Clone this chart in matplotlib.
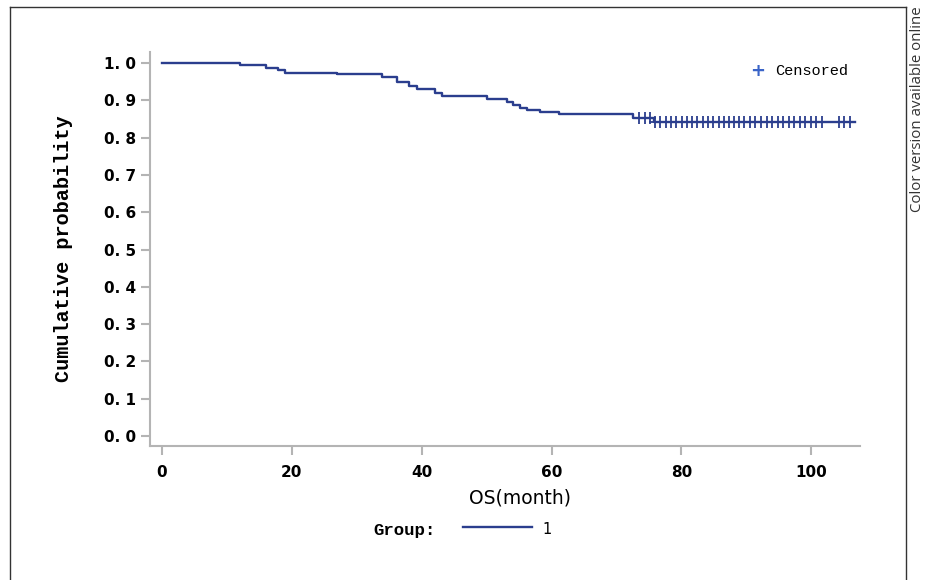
import matplotlib.pyplot as plt
from matplotlib.lines import Line2D
import numpy as np

# Kaplan-Meier estimate
event_months = [0, 12.0, 16.0, 17.9, 19.0, 27.0, 33.9, 36.2, 38.0, 39.3, 42.0, 43.1,
                50.0, 53.1, 54.1, 55.2, 56.2, 58.2, 61.2, 72.5, 75.7]
survival = [1.0, 0.995, 0.987, 0.981, 0.975, 0.970, 0.962, 0.950, 0.938, 0.930, 0.920, 0.912,
            0.905, 0.895, 0.887, 0.881, 0.874, 0.869, 0.863, 0.854, 0.843]
last_month = 106.8
censored_months = [73.5, 74.4, 75.2, 76.0, 76.7, 77.6, 78.4, 79.2, 80.1, 80.8, 81.6, 82.4,
                   83.3, 84.1, 84.9, 85.8, 86.6, 87.4, 88.1, 88.8, 89.7, 90.5, 91.4, 92.2,
                   93.1, 93.9, 94.8, 95.6, 96.5, 97.4, 98.2, 99.1, 100.0, 100.8, 101.6,
                   104.2, 105.1, 105.9]
x_ticks = [0, 20, 40, 60, 80, 100]
y_ticks = [0.0, 0.1, 0.2, 0.3, 0.4, 0.5, 0.6, 0.7, 0.8, 0.9, 1.0]

line_color = '#2b3e8e'
axis_gray = '#b4b4b4'
mono = 'Liberation Mono'
tick_font = 'DejaVu Sans'

fig = plt.figure(figsize=(9.28, 5.8), dpi=100)
ax = fig.add_axes([150 / 928, 1 - 446 / 580, 710 / 928, 394 / 580])

xs = list(event_months) + [last_month]
ys = list(survival) + [survival[-1]]
ax.step(xs, ys, where='post', color=line_color, lw=1.7)

idx = np.searchsorted(event_months, censored_months, side='right') - 1
cens_y = np.array(survival)[idx]
ax.plot(censored_months, cens_y, ls='none', marker='+', color=line_color,
        markersize=8, markeredgewidth=1.3)

ax.set_xlim(-1.85, 107.5)
ax.set_ylim(-0.027, 1.03)
ax.set_xticks(x_ticks)
ax.set_yticks(y_ticks)
ax.set_xticklabels([str(t) for t in x_ticks], fontfamily=tick_font, fontweight='bold', fontsize=11)
ax.set_yticklabels([f'{t:.1f}'.replace('.', '. ') for t in y_ticks],
                   fontfamily=tick_font, fontweight='bold', fontsize=11)

for side in ['top', 'right']:
    ax.spines[side].set_visible(False)
for side in ['left', 'bottom']:
    ax.spines[side].set_color(axis_gray)
    ax.spines[side].set_linewidth(1.5)
ax.tick_params(axis='both', colors=axis_gray, length=6.5, width=1.5, labelcolor='black')
ax.tick_params(axis='x', pad=7)
ax.tick_params(axis='y', pad=3.5)

ax.set_ylabel('Cumulative probability', fontfamily=mono, fontweight='bold', fontsize=14.5,
              labelpad=22)
fig.text(520 / 928, 1 - 498 / 580, 'OS(month)', fontfamily='DejaVu Sans', fontsize=13.5,
         ha='center', va='center')

# censored legend inside the plot
fig.text(758 / 928, 1 - 71 / 580, '+', color='#3a64c8', fontsize=13, ha='center', va='center',
         fontweight='bold')
fig.text(775 / 928, 1 - 71 / 580, 'Censored', fontfamily=mono, fontsize=11, ha='left', va='center')

# group legend below the axis
fig.text(436 / 928, 1 - 530 / 580, 'Group:', fontfamily=mono, fontweight='bold', fontsize=12.5,
         ha='right', va='center')
fig.add_artist(Line2D([463 / 928, 532 / 928], [1 - 527 / 580, 1 - 527 / 580],
                      color=line_color, lw=1.7))
fig.text(542 / 928, 1 - 529 / 580, '1', fontfamily='DejaVu Sans', fontsize=10.5,
         ha='left', va='center')

# outer frame of the figure panel
fy = 1 - 7 / 580
fig.add_artist(Line2D([10 / 928, 906 / 928], [fy, fy], color='#333333', lw=1))
fig.add_artist(Line2D([10 / 928, 10 / 928], [0, fy], color='#333333', lw=1))
fig.add_artist(Line2D([906 / 928, 906 / 928], [0, fy], color='#333333', lw=1))

fig.text(918 / 928, 1 - 6 / 580, 'Color version available online', rotation=90,
         fontfamily='Open Sans', fontsize=10.8, color='#333333', ha='center', va='top')

fig.savefig('out.png', dpi=100)
